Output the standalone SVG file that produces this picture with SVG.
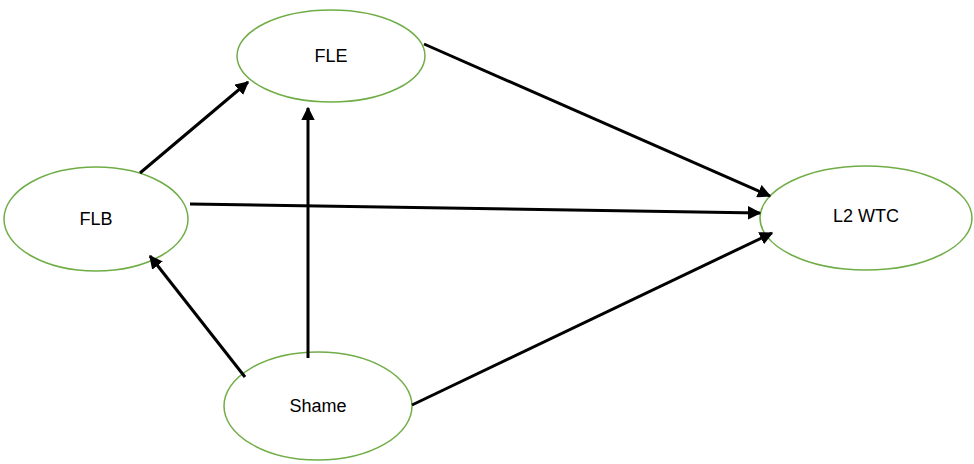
<svg xmlns="http://www.w3.org/2000/svg" width="974" height="464" viewBox="0 0 974 464">
<style>
.n ellipse{fill:#fff;stroke:#70ad47;stroke-width:1.5}
.n text{font-family:"Liberation Sans",Arial,sans-serif;font-size:18px;fill:#000;text-anchor:middle;dominant-baseline:central}
.c line{stroke:#000;stroke-width:3;marker-end:url(#a)}
</style>
<defs><marker id="a" viewBox="0 0 10 10" refX="9" refY="5" markerWidth="4.5" markerHeight="4.5" orient="auto" markerUnits="strokeWidth"><path d="M0,0L10,5L0,10z" fill="#000"/></marker></defs>
<rect width="974" height="464" fill="#fff"/>
<g id="FLE" class="n"><ellipse cx="331" cy="56" rx="94" ry="46"/><text x="331" y="56">FLE</text></g>
<g id="FLB" class="n"><ellipse cx="96" cy="219" rx="92" ry="52"/><text x="96" y="219">FLB</text></g>
<g id="L2WTC" class="n"><ellipse cx="866" cy="218" rx="106" ry="52"/><text x="866" y="216">L2 WTC</text></g>
<g id="Shame" class="n"><ellipse cx="318" cy="406" rx="94" ry="54"/><text x="318" y="406">Shame</text></g>
<g class="c">
<line x1="140" y1="173" x2="248" y2="82"/>
<line x1="424" y1="44" x2="770" y2="196"/>
<line x1="190" y1="204" x2="760" y2="213"/>
<line x1="245" y1="377" x2="150" y2="256"/>
<line x1="308" y1="358" x2="308" y2="108"/>
<line x1="412" y1="405" x2="772" y2="233"/>
</g>
</svg>
